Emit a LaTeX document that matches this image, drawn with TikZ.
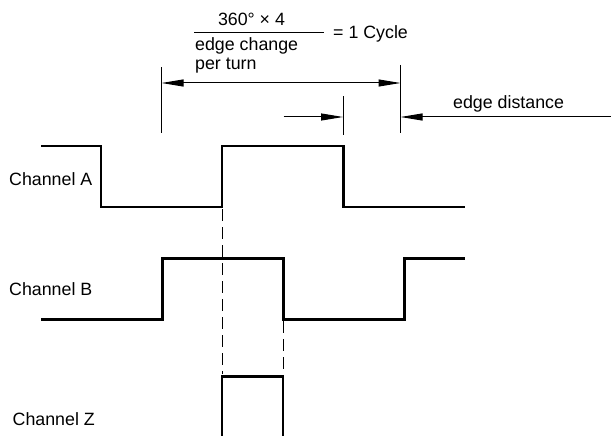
\documentclass[tikz,border=0pt]{standalone}
\usepackage{fontspec}
\setmainfont{Liberation Sans}
\usetikzlibrary{arrows.meta}
\begin{document}
\begin{tikzpicture}[x=1pt,y=-1pt,
  lbl/.style={inner sep=0pt,font=\fontsize{17.8}{19}\selectfont},
  wave/.style={line width=2.8pt,line join=miter,line cap=butt},
  dim/.style={line width=1pt},
  dimarrow/.style={line width=1pt,-{Triangle[length=22pt,width=7pt]}},
  guide/.style={line width=1pt,dash pattern=on 12pt off 6pt}]
\useasboundingbox (0,0) rectangle (611,436);
% labels
\node[lbl,anchor=base west] (la) at (9,185) {Channel A};
\node[lbl,anchor=base west] (lb) at (9,295) {Channel B};
\node[lbl,anchor=base west] (lz) at (12.5,425) {Channel Z};
\node[lbl,anchor=base] (num) at (251.5,26) {360° × 4};
\node[lbl,anchor=base west] (cyc) at (333,38.3) {= 1 Cycle};
\node[lbl,anchor=base west] (den1) at (195,51) {edge change};
\node[lbl,anchor=base west] (den2) at (195,70) {per turn};
\node[lbl,anchor=base west] (ed) at (453,109) {edge distance};
% fraction bar
\coordinate (fb1) at (194,32.3);
\coordinate (fb2) at (324,32.3);
\draw[dim] (fb1) -- (fb2);
% waveforms
\draw[wave] (41,146) -- (101,146) -- (101,207) -- (222,207) -- (222,146) -- (343.5,146) -- (343.5,207) -- (465,207);
\draw[wave] (41,319.5) -- (162.5,319.5) -- (162.5,258.5) -- (283.5,258.5) -- (283.5,319.5) -- (404.5,319.5) -- (404.5,258.5) -- (465,258.5);
\draw[wave] (222,436) -- (222,376.5) -- (283,376.5) -- (283,436);
% guides
\coordinate (g1a) at (222,209);
\coordinate (g1b) at (222,374);
\coordinate (g2a) at (283,321);
\coordinate (g2b) at (283,374);
\draw[guide] (g1a) -- (g1b);
\draw[guide] (g2a) -- (g2b);
% dimension ticks
\coordinate (t1a) at (161.5,67.5);
\coordinate (t1b) at (161.5,133);
\coordinate (t2a) at (400.5,65);
\coordinate (t2b) at (400.5,133);
\coordinate (t3a) at (343,96.5);
\coordinate (t3b) at (343,135);
\draw[dim] (t1a) -- (t1b);
\draw[dim] (t2a) -- (t2b);
\draw[dim] (t3a) -- (t3b);
% arrows
\coordinate (c1l) at (161.5,83);
\coordinate (c1r) at (400.5,83);
\draw[line width=1pt,{Triangle[length=22pt,width=7pt]}-{Triangle[length=22pt,width=7pt]}] (c1l) -- (c1r);
\coordinate (s1) at (283.5,117);
\coordinate (s2) at (343,117);
\draw[dimarrow] (s1) -- (s2);
\coordinate (e1) at (611,117);
\coordinate (e2) at (400.5,117);
\draw[dimarrow] (e1) -- (e2);
\end{tikzpicture}
\end{document}
